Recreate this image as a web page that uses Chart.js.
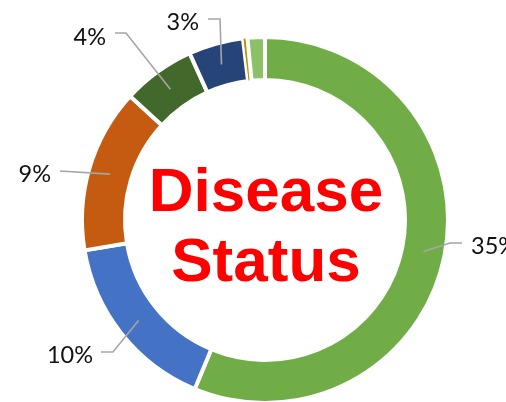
<!DOCTYPE html>
<html>
<head>
<meta charset="utf-8">
<script src="https://cdn.jsdelivr.net/npm/chart.js@4"></script>
<style>
  html, body { margin: 0; padding: 0; background: #fff; overflow: hidden; }
  #wrap { width: 506px; height: 402px; position: relative; }
</style>
</head>
<body>
<div id="wrap"><canvas id="donut"></canvas></div>
<script>
// Disease status doughnut

const categories = ["Status A", "Status B", "Status C", "Status D", "Status E", "Status F", "Status G"];
const values = [35, 10, 9, 4, 3, 0.25, 0.95];
const labelTexts = ["35%", "10%", "9%", "4%", "3%", "", ""];
const sliceColors = ["#70AD47", "#4472C4", "#C55A11", "#43682B", "#264478", "#BF9000", "#8CC168"];
const centerLines = ["Disease", "Status"];

// where each leader line bends / ends and where its text sits (canvas px)
const labelLayout = [
  { elbow: [450, 243], end: [462, 243], tx: 471, ty: 246, align: "left" },
  { elbow: [113, 352], end: [101, 352], tx: 93, ty: 355, align: "right" },
  { elbow: [60, 171], end: [60, 171], tx: 51, ty: 174, align: "right" },
  { elbow: [126, 33], end: [115, 33], tx: 106, ty: 37, align: "right" },
  { elbow: [220, 19], end: [208, 19], tx: 199, ty: 22, align: "right" },
];

const leaderPlugin = {
  id: "leaders",
  afterDatasetsDraw(chart) {
    const ctx = chart.ctx;
    const arcs = chart.getDatasetMeta(0).data;
    ctx.save();
    labelTexts.forEach((txt, i) => {
      if (!txt || !labelLayout[i]) return;
      const p = arcs[i].getCenterPoint();
      const lay = labelLayout[i];
      ctx.strokeStyle = "#A6A6A6";
      ctx.lineWidth = 1.6;
      ctx.beginPath();
      ctx.moveTo(p.x, p.y);
      ctx.lineTo(lay.elbow[0], lay.elbow[1]);
      ctx.lineTo(lay.end[0], lay.end[1]);
      ctx.stroke();

      ctx.fillStyle = "#111111";
      ctx.font = "23.5px Lato, 'Open Sans', sans-serif";
      ctx.textAlign = lay.align;
      ctx.textBaseline = "middle";
      ctx.fillText(txt, lay.tx, lay.ty);
    });
    ctx.restore();
  }
};

const centerTextPlugin = {
  id: "centerText",
  afterDraw(chart) {
    const ctx = chart.ctx;
    const cx = (chart.chartArea.left + chart.chartArea.right) / 2 + 1;
    ctx.save();
    ctx.fillStyle = "#FF0000";
    ctx.font = "bold 62px 'Liberation Sans', Arial, sans-serif";
    ctx.textAlign = "center";
    ctx.textBaseline = "alphabetic";
    ctx.fillText(centerLines[0], cx, 211);
    ctx.fillText(centerLines[1], cx, 281);
    ctx.restore();
  }
};

new Chart(document.getElementById("donut"), {
  type: "doughnut",
  data: {
    labels: categories,
    datasets: [{
      data: values,
      backgroundColor: sliceColors,
      borderColor: "#ffffff",
      borderWidth: [4, 4, 4, 4, 4, 1, 4],
      hoverBorderWidth: 4,
      hoverOffset: 0
    }]
  },
  options: {
    responsive: true,
    maintainAspectRatio: false,
    animation: false,
    radius: 183,
    cutout: "76.5%",
    layout: { padding: { left: 24, right: 0, top: 38, bottom: 0 } },
    plugins: {
      legend: { display: false },
      tooltip: { enabled: false }
    },
    events: []
  },
  plugins: [leaderPlugin, centerTextPlugin]
});
</script>
</body>
</html>
